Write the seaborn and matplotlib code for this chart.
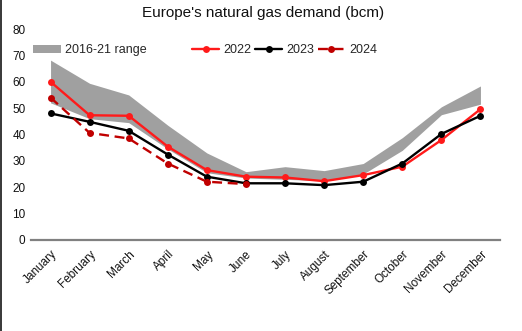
import numpy as np
import pandas as pd
import matplotlib
matplotlib.use("Agg")
import matplotlib.pyplot as plt
from matplotlib.patches import Patch, Rectangle
from matplotlib.lines import Line2D
import seaborn as sns

months = ["January", "February", "March", "April", "May", "June", "July",
          "August", "September", "October", "November", "December"]

range_low = [52.0, 46.0, 44.5, 34.5, 25.5, 23.5, 23.0, 22.5, 25.0, 34.0, 47.5, 51.5]
range_high = [68.2, 59.4, 55.0, 43.5, 33.0, 25.9, 27.8, 26.3, 29.0, 38.8, 50.5, 58.4]

demand_2022 = [60.0, 47.3, 47.1, 35.4, 26.5, 24.0, 23.7, 22.3, 24.6, 27.8, 37.9, 49.6]
demand_2023 = [48.0, 44.8, 41.4, 32.4, 24.0, 21.5, 21.5, 20.8, 22.1, 29.0, 40.2, 47.1]
demand_2024 = [54.0, 40.6, 38.5, 29.0, 22.1, 21.2]

y_ticks = [0, 10, 20, 30, 40, 50, 60, 70, 80]

sns.set_style("white")
plt.rcParams["font.family"] = ["Liberation Sans", "DejaVu Sans"]

df = pd.concat([
    pd.DataFrame({"month": months, "bcm": demand_2022, "year": "2022"}),
    pd.DataFrame({"month": months, "bcm": demand_2023, "year": "2023"}),
    pd.DataFrame({"month": months[:len(demand_2024)], "bcm": demand_2024, "year": "2024"}),
], ignore_index=True)

fig = plt.figure(figsize=(5.22, 3.31), dpi=100)
ax = fig.add_axes([31 / 522, 1 - 240 / 331, 469 / 522, 211 / 331])

band_color = "#a0a0a0"
pos = np.arange(len(months))
ax.fill_between(pos, range_low, range_high, color=band_color, linewidth=0, zorder=1)

styles = {
    "2022": dict(color="#ff1a1a", ls="-"),
    "2023": dict(color="#000000", ls="-"),
    "2024": dict(color="#c00000", ls=(0, (4.2, 2.4))),
}
for yr in ["2022", "2023", "2024"]:
    sub = df[df["year"] == yr]
    sns.lineplot(data=sub, x="month", y="bcm", ax=ax, sort=False,
                 color=styles[yr]["color"], linestyle=styles[yr]["ls"],
                 linewidth=1.7, marker="o", markersize=5,
                 markeredgewidth=0, zorder=3, legend=False)

ax.set_xlim(-0.5, 11.5)
ax.set_ylim(0, 80)
ax.set_yticks(y_ticks)
ax.set_yticklabels([str(t) for t in y_ticks], fontsize=8.5, color="#111111")
ax.set_xticks(pos)
ax.set_xticklabels(months, rotation=45, ha="right", rotation_mode="anchor",
                   fontsize=8.5, color="#111111")
ax.tick_params(axis="both", length=0, pad=4)
ax.tick_params(axis="x", pad=6)
ax.set_xlabel("")
ax.set_ylabel("")
for s in ["top", "right", "left"]:
    ax.spines[s].set_visible(False)
ax.spines["bottom"].set_color("#808080")
ax.spines["bottom"].set_linewidth(1.6)

fig.text(263 / 522, 1 - 13 / 331, "Europe's natural gas demand (bcm)",
         ha="center", va="center", fontsize=11, color="#111111")

leg1 = ax.legend(handles=[Patch(facecolor=band_color, edgecolor="none", label="2016-21 range")],
                 loc="center left", bbox_to_anchor=(0.005, 0.90), frameon=False,
                 fontsize=9, handlelength=2.2, handleheight=0.6, handletextpad=0.35,
                 borderpad=0, borderaxespad=0)
ax.add_artist(leg1)
line_handles = [
    Line2D([], [], color=styles[y]["color"], linestyle=styles[y]["ls"], linewidth=1.7,
           marker="o", markersize=5, markeredgewidth=0, label=y)
    for y in ["2022", "2023", "2024"]
]
ax.legend(handles=line_handles, loc="center left", bbox_to_anchor=(0.343, 0.90),
          ncol=3, frameon=False, fontsize=9, handlelength=2.2, handletextpad=0.3,
          columnspacing=0.3, borderpad=0, borderaxespad=0)

fig.patches.append(Rectangle((0, 0), 2 / 522, 1, transform=fig.transFigure,
                             facecolor="#3c3c3c", edgecolor="none"))

fig.savefig("out.png", dpi=100)
